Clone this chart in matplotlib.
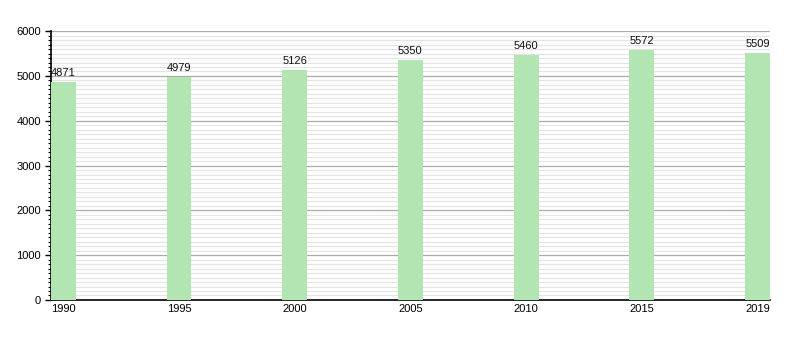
import matplotlib
matplotlib.use("Agg")
import matplotlib.pyplot as plt
from matplotlib.ticker import MultipleLocator

years = ["1990", "1995", "2000", "2005", "2010", "2015", "2019"]
population = [4871, 4979, 5126, 5350, 5460, 5572, 5509]

plt.rcParams["font.family"] = ["Liberation Sans", "DejaVu Sans"]

fig = plt.figure(figsize=(8, 3.5), dpi=100)
ax = fig.add_axes([0.0635, 0.143, 0.899, 0.768])

width = 0.216
xs = range(len(years))
ax.bar(xs, population, width=width, align="edge",
       color="#b2e5b2", edgecolor="none", zorder=3)

# value labels above each bar
for x, v in zip(xs, population):
    ax.text(x + width / 2, v + 90, str(v), ha="center", va="bottom",
            fontsize=8, color="#111111", zorder=4)

ax.set_xlim(0, len(years) - 1 + width)
ax.set_ylim(0, 6000)
ax.set_xticks([x + width / 2 for x in xs])
ax.set_xticklabels(years)
ax.tick_params(axis="x", length=0, labelsize=8, pad=3)

ax.yaxis.set_major_locator(MultipleLocator(1000))
ax.yaxis.set_minor_locator(MultipleLocator(100))
ax.tick_params(axis="y", which="major", length=4, width=1, labelsize=8, pad=3)
ax.tick_params(axis="y", which="minor", length=2.5, width=0.8)

ax.grid(axis="y", which="minor", color="#e4e4e4", linewidth=0.8, zorder=0)
ax.grid(axis="y", which="major", color="#ababab", linewidth=0.9, zorder=1)

for s in ("top", "right"):
    ax.spines[s].set_visible(False)
ax.spines["left"].set_linewidth(1.2)
ax.spines["bottom"].set_linewidth(1.2)

fig.savefig("out.png", dpi=100)
